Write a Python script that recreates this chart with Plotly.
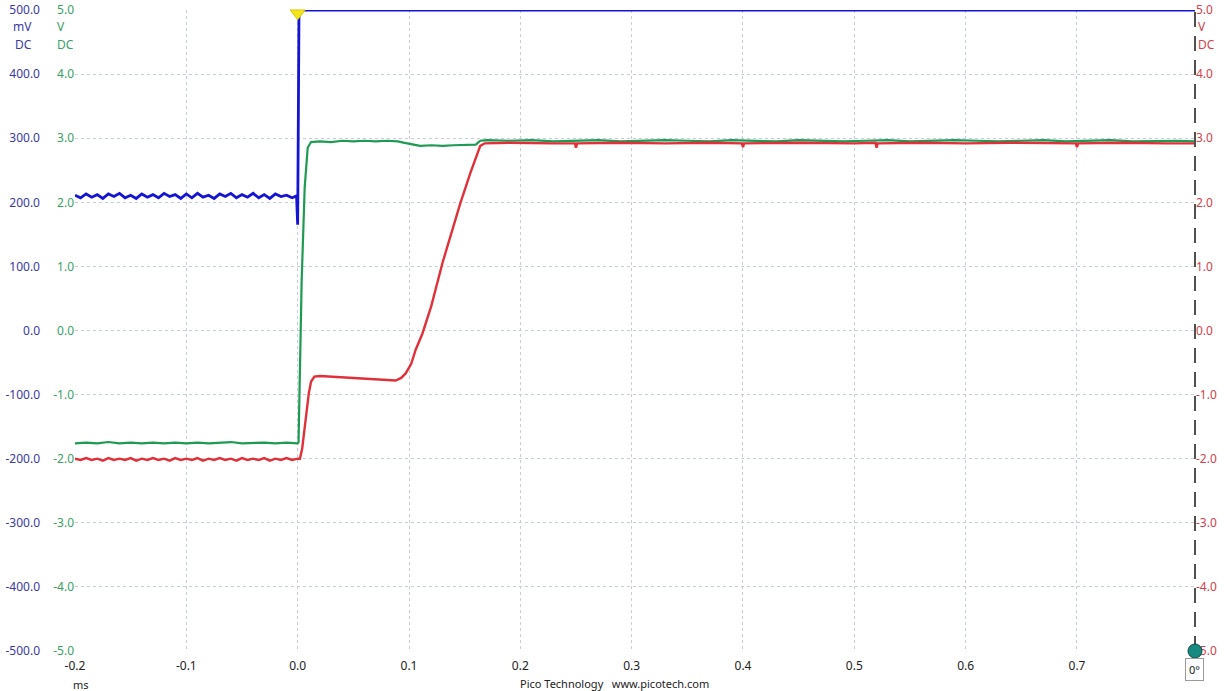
import plotly.graph_objects as go

# ---------------- data ----------------
# Blue channel (mV), time in ms
BLUE_T = [-0.200, -0.195, -0.190, -0.185, -0.180, -0.175, -0.170, -0.165, -0.160, -0.155,
          -0.150, -0.145, -0.140, -0.135, -0.130, -0.125, -0.120, -0.115, -0.110, -0.105,
          -0.100, -0.095, -0.090, -0.085, -0.080, -0.075, -0.070, -0.065, -0.060, -0.055,
          -0.050, -0.045, -0.040, -0.035, -0.030, -0.025, -0.020, -0.015, -0.010, -0.005,
          -0.001, 0.0000, 0.0006, 0.0012, 0.806]
BLUE_MV = [211, 207, 213, 208, 212, 206, 213, 209, 214, 207,
           211, 206, 213, 208, 212, 207, 214, 209, 212, 206,
           213, 207, 214, 208, 211, 206, 213, 209, 214, 207,
           212, 208, 214, 207, 212, 206, 213, 209, 211, 207,
           210, 165, 330, 500, 500]

# Green channel (V)
GREEN_T = [-0.200, -0.190, -0.180, -0.170, -0.160, -0.150, -0.140, -0.130, -0.120, -0.110,
           -0.100, -0.090, -0.080, -0.070, -0.060, -0.050, -0.040, -0.030, -0.020, -0.010,
           0.0000, 0.0008, 0.0036, 0.0063, 0.0090, 0.0120, 0.020, 0.030, 0.040, 0.050,
           0.060, 0.070, 0.080, 0.090, 0.095, 0.100, 0.105, 0.110, 0.120, 0.130,
           0.140, 0.150, 0.160, 0.164, 0.170, 0.190, 0.210, 0.230, 0.250, 0.270,
           0.290, 0.310, 0.330, 0.350, 0.370, 0.390, 0.410, 0.430, 0.450, 0.470,
           0.490, 0.510, 0.530, 0.550, 0.570, 0.590, 0.610, 0.630, 0.650, 0.670,
           0.690, 0.710, 0.730, 0.750, 0.770, 0.790, 0.806]
GREEN_V = [-1.76, -1.75, -1.76, -1.74, -1.76, -1.75, -1.76, -1.75, -1.76, -1.75,
           -1.76, -1.75, -1.76, -1.75, -1.74, -1.76, -1.75, -1.75, -1.76, -1.75,
           -1.76, -1.74, 0.78, 2.23, 2.85, 2.94, 2.95, 2.94, 2.96, 2.95,
           2.96, 2.95, 2.96, 2.95, 2.93, 2.91, 2.89, 2.88, 2.89, 2.88,
           2.89, 2.89, 2.90, 2.96, 2.97, 2.96, 2.97, 2.95, 2.96, 2.97,
           2.95, 2.96, 2.97, 2.96, 2.95, 2.97, 2.96, 2.95, 2.97, 2.96,
           2.95, 2.96, 2.97, 2.95, 2.96, 2.97, 2.96, 2.95, 2.96, 2.97,
           2.95, 2.96, 2.97, 2.95, 2.96, 2.96, 2.95]

# Red channel (V)
RED_T = [-0.200, -0.195, -0.190, -0.185, -0.180, -0.175, -0.170, -0.165, -0.160, -0.155,
         -0.150, -0.145, -0.140, -0.135, -0.130, -0.125, -0.120, -0.115, -0.110, -0.105,
         -0.100, -0.095, -0.090, -0.085, -0.080, -0.075, -0.070, -0.065, -0.060, -0.055,
         -0.050, -0.045, -0.040, -0.035, -0.030, -0.025, -0.020, -0.015, -0.010, -0.005,
         0.0000, 0.0020, 0.0040, 0.0060, 0.0080, 0.0100, 0.0120, 0.015, 0.020, 0.030,
         0.040, 0.050, 0.060, 0.070, 0.080, 0.088, 0.093, 0.097, 0.102, 0.106,
         0.112, 0.120, 0.130, 0.146, 0.155, 0.164, 0.168, 0.190, 0.230, 0.249,
         0.250, 0.251, 0.290, 0.330, 0.370, 0.399, 0.400, 0.401, 0.450, 0.500,
         0.519, 0.520, 0.521, 0.560, 0.600, 0.640, 0.699, 0.700, 0.701, 0.740,
         0.780, 0.806]
RED_V = [-2.00, -2.02, -1.99, -2.02, -2.00, -2.03, -1.99, -2.02, -2.00, -2.02,
         -1.99, -2.03, -2.00, -2.02, -1.99, -2.02, -2.00, -2.03, -1.99, -2.02,
         -2.00, -2.02, -1.99, -2.03, -2.00, -2.02, -1.99, -2.02, -2.00, -2.03,
         -1.99, -2.02, -2.00, -2.02, -1.99, -2.03, -2.00, -2.02, -1.99, -2.02,
         -2.00, -2.00, -1.85, -1.55, -1.25, -0.98, -0.80, -0.72, -0.71, -0.72,
         -0.73, -0.75, -0.76, -0.77, -0.78, -0.78, -0.74, -0.67, -0.52, -0.30,
         -0.05, 0.38, 1.05, 1.98, 2.45, 2.88, 2.92, 2.93, 2.92, 2.92,
         2.85, 2.92, 2.93, 2.92, 2.93, 2.92, 2.86, 2.92, 2.93, 2.92,
         2.93, 2.85, 2.92, 2.93, 2.92, 2.93, 2.92, 2.86, 2.92, 2.93,
         2.92, 2.92]

# Tick labels
X_TICKS = [-0.2, -0.1, 0.0, 0.1, 0.2, 0.3, 0.4, 0.5, 0.6, 0.7]
X_LABELS = ["-0.2", "-0.1", "0.0", "0.1", "0.2", "0.3", "0.4", "0.5", "0.6", "0.7"]
MV_TICKS = [-500, -400, -300, -200, -100, 0, 100, 200, 300, 400, 500]
MV_LABELS = ["-500.0", "-400.0", "-300.0", "-200.0", "-100.0", "0.0",
             "100.0", "200.0", "300.0", "400.0", "500.0"]
V_TICKS = [-5, -4, -3, -2, -1, 0, 1, 2, 3, 4, 5]
V_LABELS = ["-5.0", "-4.0", "-3.0", "-2.0", "-1.0", "0.0", "1.0", "2.0", "3.0", "4.0", "5.0"]

X_MIN, X_MAX = -0.2, 0.806

# ---------------- styling ----------------
FONT = "Noto Sans"
BLUE = "#1414d2"
GREEN = "#1f9a52"
RED = "#e0303a"
BLUE_LBL = "#3a3aa0"
GREEN_LBL = "#3aa064"
RED_LBL = "#d4404c"
GRID = "#c4ced6"

W, H = 1230, 691
ML, MR, MT, MB = 0, 35, 10, 40
PLOT_W = W - ML - MR
X_DOMAIN_START = 75 / PLOT_W

fig = go.Figure()

fig.add_trace(go.Scatter(x=BLUE_T, y=BLUE_MV, mode="lines", yaxis="y",
                         line=dict(color=BLUE, width=2.8), hoverinfo="skip", showlegend=False))
fig.add_trace(go.Scatter(x=GREEN_T, y=GREEN_V, mode="lines", yaxis="y2",
                         line=dict(color=GREEN, width=2.2), hoverinfo="skip", showlegend=False))
fig.add_trace(go.Scatter(x=RED_T, y=RED_V, mode="lines", yaxis="y3",
                         line=dict(color=RED, width=2.4), hoverinfo="skip", showlegend=False))

# trigger marker
fig.add_trace(go.Scatter(x=[0.0], y=[4.95], mode="markers", yaxis="y2", cliponaxis=False,
                         marker=dict(symbol="triangle-down", size=13, color="#f2e41c",
                                     line=dict(color="#d8c800", width=1)),
                         hoverinfo="skip", showlegend=False))

fig.update_layout(
    width=W, height=H,
    margin=dict(l=ML, r=MR, t=MT, b=MB, autoexpand=False),
    paper_bgcolor="white", plot_bgcolor="white",
    font=dict(family=FONT, size=12, color="#222"),
    xaxis=dict(domain=[X_DOMAIN_START, 1], range=[X_MIN, X_MAX], automargin=False,
               tickvals=X_TICKS, ticktext=X_LABELS, ticklabelstandoff=6,
               showgrid=True, gridcolor=GRID, griddash="3px,3px", gridwidth=1,
               zeroline=False, showline=False, ticks="",
               tickfont=dict(family=FONT, size=12, color="#222")),
    yaxis=dict(range=[-500, 500], anchor="free", position=40 / PLOT_W, automargin=False,
               tickvals=MV_TICKS, ticktext=MV_LABELS,
               showgrid=False, zeroline=False, showline=False, ticks="",
               tickfont=dict(family=FONT, size=12, color=BLUE_LBL)),
    yaxis2=dict(range=[-5, 5], overlaying="y", anchor="x", side="left", automargin=False,
                tickvals=V_TICKS, ticktext=V_LABELS,
                showgrid=True, gridcolor=GRID, griddash="3px,3px", gridwidth=1,
                zeroline=False, showline=False, ticks="",
                tickfont=dict(family=FONT, size=12, color=GREEN_LBL)),
    yaxis3=dict(range=[-5, 5], overlaying="y", anchor="x", side="right", automargin=False,
                tickvals=V_TICKS, ticktext=V_LABELS,
                showgrid=False, zeroline=False, showline=False, ticks="",
                tickfont=dict(family=FONT, size=12, color=RED_LBL)),
)

# dark dashed vertical cursor at the right edge
fig.add_shape(type="line", xref="paper", yref="paper", x0=1, x1=1, y0=0, y1=1,
              line=dict(color="#505050", width=2, dash="15px,9px"), layer="above")

# teal marker at bottom-right (paper-referenced so it is not clipped)
fig.add_shape(type="circle", xref="paper", yref="paper", xsizemode="pixel", ysizemode="pixel",
              xanchor=1, yanchor=0, x0=-7, x1=7, y0=-7, y1=7,
              fillcolor="#168a80", line=dict(color="#0c4a44", width=1), layer="above")

ann = []
def txt(x, y, s, color, xanchor="left", size=12):
    ann.append(dict(x=x, y=y, xref="paper", yref="paper", text=s, showarrow=False,
                    xanchor=xanchor, yanchor="middle", font=dict(family=FONT, size=size, color=color)))

def px_x(px):
    return (px - ML) / PLOT_W

def px_y(py):
    return (H - MB - py) / (H - MT - MB)

# unit labels
txt(px_x(34), px_y(27), "mV", BLUE_LBL, "right")
txt(px_x(34), px_y(44), "DC", BLUE_LBL, "right")
txt(px_x(55), px_y(27), "V", GREEN_LBL, "left")
txt(px_x(55), px_y(44), "DC", GREEN_LBL, "left")
txt(px_x(1196), px_y(27), "V", RED_LBL, "left")
txt(px_x(1196), px_y(44), "DC", RED_LBL, "left")
# bottom texts
txt(px_x(81), px_y(684), "ms", "#222", "center", 11)
txt(px_x(614), px_y(683), "Pico Technology&nbsp;&nbsp;&nbsp;www.picotech.com", "#222", "center", 11)
# phase box
ann.append(dict(x=px_x(1194), y=px_y(669), xref="paper", yref="paper", text="0°",
                showarrow=False, xanchor="center", yanchor="middle",
                font=dict(family=FONT, size=11, color="#222"),
                bordercolor="#9a9a9a", borderwidth=1, borderpad=3, bgcolor="white"))
fig.update_layout(annotations=ann)

fig.write_html("out.html", config={"displayModeBar": False},
               post_script="document.body.style.margin='0px';document.body.style.overflow='hidden';")
